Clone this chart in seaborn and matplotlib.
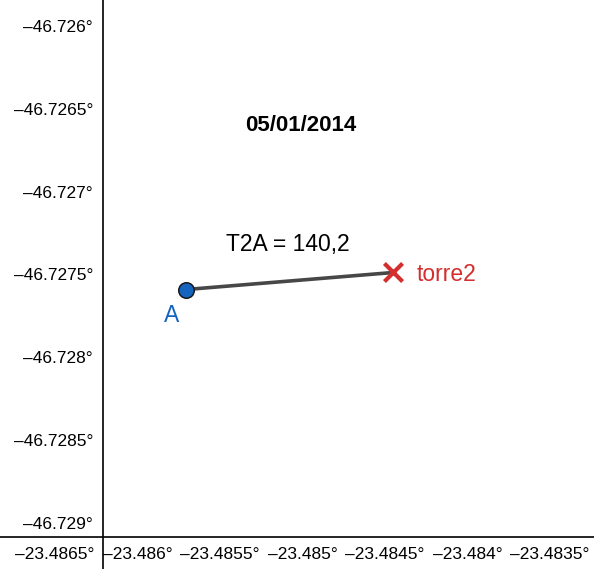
"""Recreate a GeoGebra style point/segment plot with coordinate axes through the plot."""
import numpy as np
import pandas as pd
import seaborn as sns
import matplotlib.pyplot as plt
from matplotlib.ticker import MultipleLocator, FuncFormatter

sns.set_style("white")
plt.rcParams["font.family"] = ["Liberation Sans", "DejaVu Sans"]
plt.rcParams["text.color"] = "black"

# data
point_names = ["A", "torre2"]
point_x = [-23.485708, -23.48445]
point_y = [-46.727591, -46.727488]
segment_label = "T2A = 140,2"
date_label = "05/01/2014"

df = pd.DataFrame({"name": point_names, "x": point_x, "y": point_y})

BLUE = "#1565c0"
RED = "#d32f2f"

fig = plt.figure(figsize=(5.94, 5.69), dpi=100)
ax = fig.add_axes([0, 0, 1, 1])

# segment between the two points
sns.lineplot(data=df, x="x", y="y", sort=False, color="#474747",
    linewidth=2.6, ax=ax, zorder=2)

a = df[df["name"] == "A"]
t = df[df["name"] == "torre2"]
sns.scatterplot(data=a, x="x", y="y", s=125, color=BLUE,
    edgecolor="#1a1a1a", linewidth=1.1, ax=ax, zorder=3)
ax.scatter(t["x"], t["y"], s=170, marker="x", color=RED,
    linewidths=3, zorder=3)

ax.set_xlim(-23.486833, -23.483234)
ax.set_ylim(-46.729278, -46.725843)

# labels
ax.text(a["x"].iloc[0] - 0.000085, a["y"].iloc[0] - 0.000155, "A",
    color=BLUE, fontsize=16.5, ha="center", va="center")
ax.text(t["x"].iloc[0] + 0.00014, t["y"].iloc[0] - 0.000015, "torre2",
    color=RED, fontsize=16.5, ha="left", va="center")
ax.text(-23.48509, -46.72732, segment_label, fontsize=16.5,
    ha="center", va="center")
ax.text(-23.48501, -46.72660, date_label, fontsize=16,
    fontweight="bold", ha="center", va="center")

# axes through the data
ax.spines["left"].set_position(("data", -23.48621))
ax.spines["bottom"].set_position(("data", -46.729085))
ax.spines["right"].set_visible(False)
ax.spines["top"].set_visible(False)
for s in ["left", "bottom"]:
    ax.spines[s].set_linewidth(1.2)
    ax.spines[s].set_color("black")

def deg_fmt(v, pos=None):
    s = f"{abs(v):.4f}".rstrip("0").rstrip(".")
    return ("\u2013" if v < 0 else "") + s + "\u00b0"

ax.xaxis.set(major_locator=MultipleLocator(0.0005), major_formatter=FuncFormatter(deg_fmt))
ax.yaxis.set(major_locator=MultipleLocator(0.0005), major_formatter=FuncFormatter(deg_fmt))
ax.tick_params(axis="both", direction="out", length=4, width=1.2,
    labelsize=12.5, pad=3, colors="black")
ax.set_xlabel("")
ax.set_ylabel("")
ax.grid(False)

fig.savefig("out.png", dpi=100)
plt.close()
